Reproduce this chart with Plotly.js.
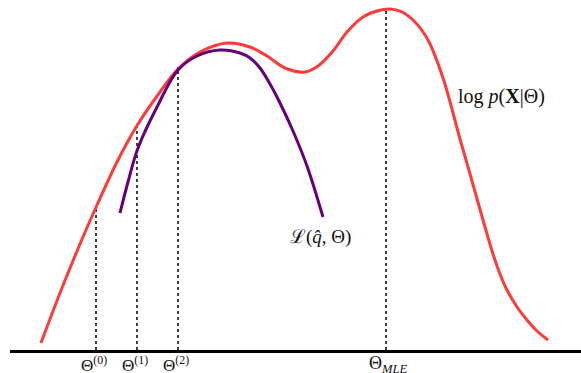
<!DOCTYPE html>
<html>
<head>
<meta charset="utf-8">
<script src="https://cdn.plot.ly/plotly-3.0.1.min.js"></script>
<style>html,body{margin:0;padding:0;background:#fff;}#chart{width:581px;height:373px;}</style>
</head>
<body>
<div id="chart"></div>
<script>
// log-likelihood curve log p(X|Θ)
const logLikX = [41, 60, 80, 97, 118, 138, 160, 178, 200, 227, 250, 267, 285, 305, 318, 333, 347, 363, 377, 390, 402, 415, 428, 443, 460, 472, 483, 493, 500, 507, 517, 527, 537, 548];
const logLikY = [7, 57, 106, 145, 190, 226, 258, 281, 298, 307, 303, 294, 282, 278, 284, 299, 318, 333, 339, 341, 338, 328, 310, 272, 211, 169, 130, 96, 76, 60, 43, 30, 19, 10];
// lower bound L(q̂, Θ)
const boundX = [120, 128, 138, 157, 178, 197, 220, 240, 250, 260, 270, 280, 293, 307, 323];
const boundY = [137, 168, 202, 243, 280, 294, 300, 297, 292, 282, 266, 247, 219, 184, 133];
// parameter iterates
const thetaX = [96, 137, 178, 386];
const thetaTop = [143, 225, 283, 341];
const thetaLabels = ['Θ<sup>(0)</sup>', 'Θ<sup>(1)</sup>', 'Θ<sup>(2)</sup>', 'Θ<sub><i>MLE</i></sub>'];

const serif = 'Liberation Serif, DejaVu Serif, serif';
const traces = [];
thetaX.forEach((x, i) => {
  traces.push({x: [x, x], y: [0, thetaTop[i]], mode: 'lines', line: {color: '#000', width: 1.5, dash: 'dot'}, hoverinfo: 'skip', showlegend: false});
});
traces.push({x: logLikX, y: logLikY, mode: 'lines', line: {color: '#ff3a3a', width: 3, shape: 'spline', smoothing: 1}, showlegend: false});
traces.push({x: boundX, y: boundY, mode: 'lines', line: {color: '#650078', width: 3, shape: 'spline', smoothing: 1}, showlegend: false});

const annotations = [
  {x: 8, y: 242, xref: 'x', yref: 'y', xanchor: 'left', yanchor: 'middle', showarrow: false, text: 'After updating q', font: {family: 'Liberation Sans, Arial, sans-serif', size: 16, color: '#1a1a1a'}},
  {x: 501, y: 254, xref: 'x', yref: 'y', xanchor: 'center', yanchor: 'middle', showarrow: false, text: 'log <i>p</i>(<b>X</b>|Θ)', font: {family: serif, size: 20, color: '#111'}},
  {x: 320, y: 113, xref: 'x', yref: 'y', xanchor: 'center', yanchor: 'middle', showarrow: false, text: 'ℒ(<i>q̂</i>, Θ)', font: {family: serif, size: 19, color: '#111'}}
];
thetaX.forEach((x, i) => {
  annotations.push({x: x, y: 0, xref: 'x', yref: 'paper', xanchor: 'center', yanchor: 'top', yshift: -1, xshift: i === 3 ? 2 : -2,
                    showarrow: false, text: thetaLabels[i], font: {family: serif, size: i === 3 ? 18 : 17, color: '#111'}});
});

const layout = {
  width: 581, height: 373,
  margin: {l: 10, r: 0, t: 0, b: 23, pad: 0},
  paper_bgcolor: '#fff', plot_bgcolor: '#fff',
  showlegend: false,
  xaxis: {range: [10, 581], showgrid: false, zeroline: false, showline: true, linecolor: '#000', linewidth: 3,
          ticks: '', showticklabels: false, fixedrange: true},
  yaxis: {range: [0, 350], showgrid: false, zeroline: false, showline: false, showticklabels: false, ticks: '', fixedrange: true},
  annotations: annotations
};
Plotly.newPlot('chart', traces, layout, {displayModeBar: false, staticPlot: true});
</script>
</body>
</html>
